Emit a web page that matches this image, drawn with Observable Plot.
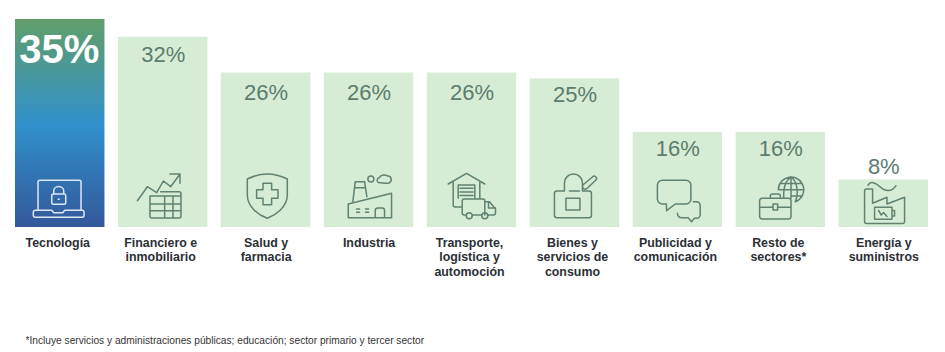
<!DOCTYPE html>
<html>
<head>
<meta charset="utf-8">
<script src="https://cdn.jsdelivr.net/npm/d3@7"></script>
<script src="https://cdn.jsdelivr.net/npm/@observablehq/plot@0.6"></script>
<style>
html,body{margin:0;padding:0;background:#fff;overflow:hidden}
svg{display:block}
</style>
</head>
<body>
<div id="chart"></div>
<script>
const categories = ["Tecnología","Financiero e\ninmobiliario","Salud y\nfarmacia","Industria","Transporte,\nlogística y\nautomoción","Bienes y\nservicios de\nconsumo","Publicidad y\ncomunicación","Resto de\nsectores*","Energía y\nsuministros"];
const values = [35,32,26,26,26,25,16,16,8];
const footnote = "*Incluye servicios y administraciones públicas; educación; sector primario y tercer sector";

const iconLaptop = "M-21.7,-17V-44.7a2,2 0 0 1 2,-2H19.3a2,2 0 0 1 2,2V-17M-24.4,-16.7H-8l2,2.5H3l2,-2.5H22.3a2,2 0 0 1 2,2v3a2,2 0 0 1 -2,2H-24.4a2,2 0 0 1 -2,-2v-3a2,2 0 0 1 2,-2ZM-6,-33V-36a5,4.5 0 0 1 10,0V-33M-6.5,-33H4.5a1.5,1.5 0 0 1 1.5,1.5V-24.2a1.5,1.5 0 0 1 -1.5,1.5H-6.5a1.5,1.5 0 0 1 -1.5,-1.5V-31.5a1.5,1.5 0 0 1 1.5,-1.5ZM-1.5,-27.8h1";
const iconFinance = "M-25.3,-26.3L-15.3,-40.3L-6,-34.3L0.7,-46L8,-40.3L17.3,-53M7.3,-53H17.3V-43.7M-2,-35.3H16.3a2,2 0 0 1 2,2V-11a2,2 0 0 1 -2,2H-10.7a2,2 0 0 1 -2,-2V-31H18.3M-12.7,-23H18.3M-12.7,-16.3H18.3M2,-31V-9M10.3,-31V-9";
const iconHealth = "M-18.3,-48Q-8,-53 1.7,-53Q11,-53 21.7,-48V-32C21.7,-20 10,-12 1.7,-8.7C-7,-12 -18.3,-20 -18.3,-32ZM-2.6,-43.7H6V-37.3H12.4V-28.7H6V-22.3H-2.6V-28.7H-9V-37.3H-2.6Z";
const iconIndustry = "M-20.3,-9.3V-23L23,-33.7V-9.3ZM-15.7,-25.3L-13.3,-45.3H-4L-1.7,-30.3M-14,-39.3H-3.5M6.7,-9.3V-16.5a2.5,2.5 0 0 1 2.5,-2.5H13.5a2.5,2.5 0 0 1 2.5,2.5V-9.3M-12,-18h3M-3,-18h3M-12,-14.7h3M-3,-14.7h3M5.3,-48a3,3 0 1 1 -6,0a3,3 0 1 1 6,0ZM10,-44.5C8,-45 8,-49 11,-49.5C12,-52.5 17,-52.5 19,-51C23,-51.5 24,-45.5 20.5,-44C17,-43.5 13,-44 10,-44.5Z";
const iconLogistics = "M-23.3,-43L-5,-53.7L13.3,-43M-18.3,-45V-22a2,2 0 0 0 2,2H-9.3M8.3,-45V-28.7M-13.3,-28.7V-42H3.3V-28.7M-11.5,-38.7H1.5M-11.5,-35H1.5M-11.5,-31.5H1.5M-5.5,-12H-7.3a2,2 0 0 1 -2,-2V-26a2,2 0 0 1 2,-2H11.3a2,2 0 0 1 2,2V-12M1,-12H10M13.3,-25.3H18L24,-18V-14a2,2 0 0 1 -2,2H16.5M17,-25V-19H24M0.7,-11.3a3,3 0 1 1 -6,0a3,3 0 1 1 6,0ZM16.3,-11.3a3,3 0 1 1 -6,0a3,3 0 1 1 6,0Z";
const iconConsumer = "M-10,-36H-17.5a2.5,2.5 0 0 0 -2.5,2.5V-11.8a2.5,2.5 0 0 0 2.5,2.5H14.5a2.5,2.5 0 0 0 2.5,-2.5V-33.5a2.5,2.5 0 0 0 -2.5,-2.5H8M-10,-36V-44a9,9 0 0 1 18,0V-36M-5,-36H5M-8.5,-28.7H5.5V-17H-8.5ZM9,-42.5L18,-50a2,2 0 0 1 3.5,3L12.5,-38.5a2,2 0 0 1 -3.5,-4Z";
const iconAdvertising = "M-15,-46.7H8.5a5,5 0 0 1 5,5V-28a5,5 0 0 1 -5,5H-2L-10.8,-16.3L-11,-23H-15a5,5 0 0 1 -5,-5V-41.7a5,5 0 0 1 5,-5ZM15.8,-25.3H19a3.8,3.8 0 0 1 3.8,3.8V-12a3.8,3.8 0 0 1 -3.8,3.3H17L14.2,-5.3L10.8,-9.3H4.2A4.2,4.2 0 0 1 0,-13.7";
const iconOther = "M-18.2,-28.7H8.2a2.5,2.5 0 0 1 2.5,2.5V-10.5a2.5,2.5 0 0 1 -2.5,2.5H-18.2a2.5,2.5 0 0 1 -2.5,-2.5V-26.2a2.5,2.5 0 0 1 2.5,-2.5ZM-10,-28.7V-31a2,2 0 0 1 2,-2H-2a2,2 0 0 1 2,2V-28.7M-20.7,-19.7H-7.3M-2.7,-19.7H10.7M-7.3,-23H-2.7V-17H-7.3ZM-2,-37.3A12.7,12.7 0 1 1 15,-25.3M10.7,-50V-28.7M10.7,-50C3,-45 3,-35 3.5,-28.7M10.7,-50C18,-45 18,-32 15,-25.3M0.5,-43.5H21M-2,-37.3H23.4M11,-31H21.5";
const iconEnergy = "M-18.7,-5.5V-36a2,2 0 0 1 2,-2H-10.7V-23.7L3.7,-29.7V-23L21.3,-29.7V-5.5a2,2 0 0 1 -2,2H-16.7a2,2 0 0 1 -2,-2ZM-8.7,-19.7H8.7V-7.7H-8.7ZM8.7,-16.5H11.3V-11H8.7M-4.7,-16.5L-2,-12L0.3,-14.5L3.7,-10.5M-15.3,-41.7C-13,-46 -8,-45 -3,-40C1,-36 8,-34 12.7,-41.3";
const icons = [iconLaptop,iconFinance,iconHealth,iconIndustry,iconLogistics,iconConsumer,iconAdvertising,iconOther,iconEnergy];

const rows = categories.map((c,i)=>({category:c,value:values[i],label:values[i]+"%",icon:icons[i]}));
const isLead = d=>d.value===35;
const shifted = new Set([categories[0],categories[1],categories[4],categories[5],categories[6],categories[7]]);
const font = "'Liberation Sans', Arial, sans-serif";
const pct = {x:"category",y:"value",text:"label",fill:"#5c7c6e",fontSize:22};
const cat = {x:"category",y:()=>0,text:"category",lineAnchor:"top",dy:8.5,fill:"#2b2f36",fontSize:12.4,fontWeight:"bold",lineHeight:1.2};

const plot = Plot.plot({
  width:945,height:352,
  margin:0,
  style:{fontFamily:font,background:"#fff"},
  x:{domain:categories,range:[15,928],paddingInner:0.131,paddingOuter:0,round:false,axis:null},
  y:{domain:[0,35],range:[227,19],axis:null},
  marks:[
    ()=>{
      const defs=d3.create("svg:defs");
      const g=defs.append("linearGradient").attr("id","leadGradient").attr("x1",0).attr("x2",0).attr("y1",0).attr("y2",1);
      [["0%","#609e6a"],["51%","#3090cc"],["100%","#34589a"]].forEach(([o,c])=>g.append("stop").attr("offset",o).attr("stop-color",c));
      return defs.node();
    },
    Plot.barY(rows.filter(d=>!isLead(d)),{x:"category",y:"value",fill:"#d7ecd4"}),
    Plot.barY(rows.filter(isLead),{x:"category",y:"value",fill:"url(#leadGradient)"}),
    Plot.text(rows.filter(isLead),{x:"category",y:"value",text:"label",fill:"#fff",fontSize:40,fontWeight:"bold",dy:31,dx:-1}),
    Plot.text(rows.filter(d=>d.value===32),{...pct,dy:18}),
    Plot.text(rows.filter(d=>d.value===26),{...pct,dy:19.5}),
    Plot.text(rows.filter(d=>d.value===25||d.value===16),{...pct,dy:16.5}),
    Plot.text(rows.filter(d=>d.value===8),{...pct,dy:-13}),
    Plot.text(rows.filter(d=>shifted.has(d.category)),{...cat,dx:-2.5}),
    Plot.text(rows.filter(d=>!shifted.has(d.category)),cat),
    (index,scales)=>{
      const bw=typeof scales.x.bandwidth==="function"?scales.x.bandwidth():(scales.x.bandwidth||0);
      const g=d3.create("svg:g").attr("fill","none").attr("stroke-linejoin","round").attr("stroke-linecap","round").attr("stroke-width",1.5);
      rows.forEach(d=>{
        g.append("path").attr("d",d.icon)
          .attr("stroke",isLead(d)?"#dde7f3":"#5f8272")
          .attr("transform",`translate(${scales.x(d.category)+bw/2},${scales.y(0)})`);
      });
      return g.node();
    },
    Plot.text([footnote],{frameAnchor:"bottom-left",text:d=>d,dx:25,dy:-9,fill:"#333",fontSize:10.2})
  ]
});
document.getElementById("chart").append(plot);
</script>
</body>
</html>
